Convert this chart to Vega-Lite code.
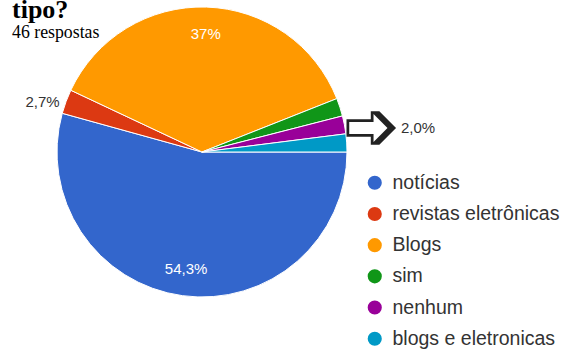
{
  "$schema": "https://vega.github.io/schema/vega-lite/v6.json",
  "width": 404,
  "height": 304,
  "autosize": {"type": "none"},
  "padding": {"left": 0, "top": 0, "right": 163, "bottom": 46},
  "background": "white",
  "view": {"stroke": null},
  "title": {
    "text": "tipo?",
    "subtitle": ["", "46 respostas"],
    "anchor": "start",
    "frame": "group",
    "orient": "none",
    "baseline": "alphabetic",
    "dx": 12,
    "dy": 18,
    "font": "Liberation Serif",
    "fontSize": 26,
    "fontWeight": "bold",
    "color": "black",
    "subtitleFont": "Liberation Serif",
    "subtitleFontSize": 17.8,
    "subtitleColor": "black",
    "subtitleLineHeight": 20,
    "subtitlePadding": 0
  },
  "data": {
    "values": [
      {"cat": "notícias", "pct": 54.3, "i": 1, "label": "54,3%"},
      {"cat": "revistas eletrônicas", "pct": 2.7, "i": 2, "label": "2,7%"},
      {"cat": "Blogs", "pct": 37, "i": 3, "label": "37%"},
      {"cat": "sim", "pct": 2, "i": 4, "label": "2,0%"},
      {"cat": "nenhum", "pct": 2, "i": 5, "label": "2,0%"},
      {"cat": "blogs e eletronicas", "pct": 2, "i": 6, "label": "2,0%"}
    ]
  },
  "encoding": {
    "theta": {"field": "pct", "type": "quantitative", "stack": true, "scale": {"range": [1.5708, 7.854]}},
    "order": {"field": "i", "type": "quantitative"}
  },
  "layer": [
    {
      "mark": {"type": "arc", "outerRadius": 145, "stroke": "white", "strokeWidth": 1},
      "encoding": {
        "color": {
          "field": "cat",
          "type": "nominal",
          "scale": {
            "domain": ["notícias", "revistas eletrônicas", "Blogs", "sim", "nenhum", "blogs e eletronicas"],
            "range": ["#3366cc", "#dc3912", "#ff9900", "#109618", "#990099", "#0099c6"]
          },
          "legend": {
            "orient": "none",
            "legendX": 365,
            "legendY": 173,
            "title": null,
            "symbolType": "circle",
            "symbolSize": 200,
            "symbolStrokeWidth": 0,
            "labelFont": "Liberation Sans",
            "labelFontSize": 19.5,
            "labelColor": "#333",
            "labelOffset": 8,
            "labelLimit": 400,
            "rowPadding": 10.2
          }
        }
      }
    },
    {
      "mark": {"type": "text", "radius": 118, "fill": "white", "fontSize": 15, "font": "Liberation Sans"},
      "encoding": {
        "detail": {"field": "cat"},
        "text": {"condition": {"test": "datum.cat === 'notícias' || datum.cat === 'Blogs'", "field": "label"}, "value": ""}
      }
    },
    {
      "mark": {"type": "text", "radius": 170, "dy": 9, "fill": "#333", "fontSize": 15, "font": "Liberation Sans"},
      "encoding": {
        "detail": {"field": "cat"},
        "text": {"condition": {"test": "datum.cat === 'revistas eletrônicas'", "field": "label"}, "value": ""}
      }
    },
    {
      "mark": {"type": "text", "radius": 173, "dy": 9, "fill": "#222", "fontSize": 70, "font": "DejaVu Sans"},
      "encoding": {
        "detail": {"field": "cat"},
        "text": {"condition": {"test": "datum.cat === 'nenhum'", "value": "➩"}, "value": ""}
      }
    },
    {
      "mark": {"type": "text", "radius": 220, "dy": 17, "fill": "#333", "fontSize": 15, "font": "Liberation Sans"},
      "encoding": {
        "detail": {"field": "cat"},
        "text": {"condition": {"test": "datum.cat === 'nenhum'", "field": "label"}, "value": ""}
      }
    }
  ]
}
